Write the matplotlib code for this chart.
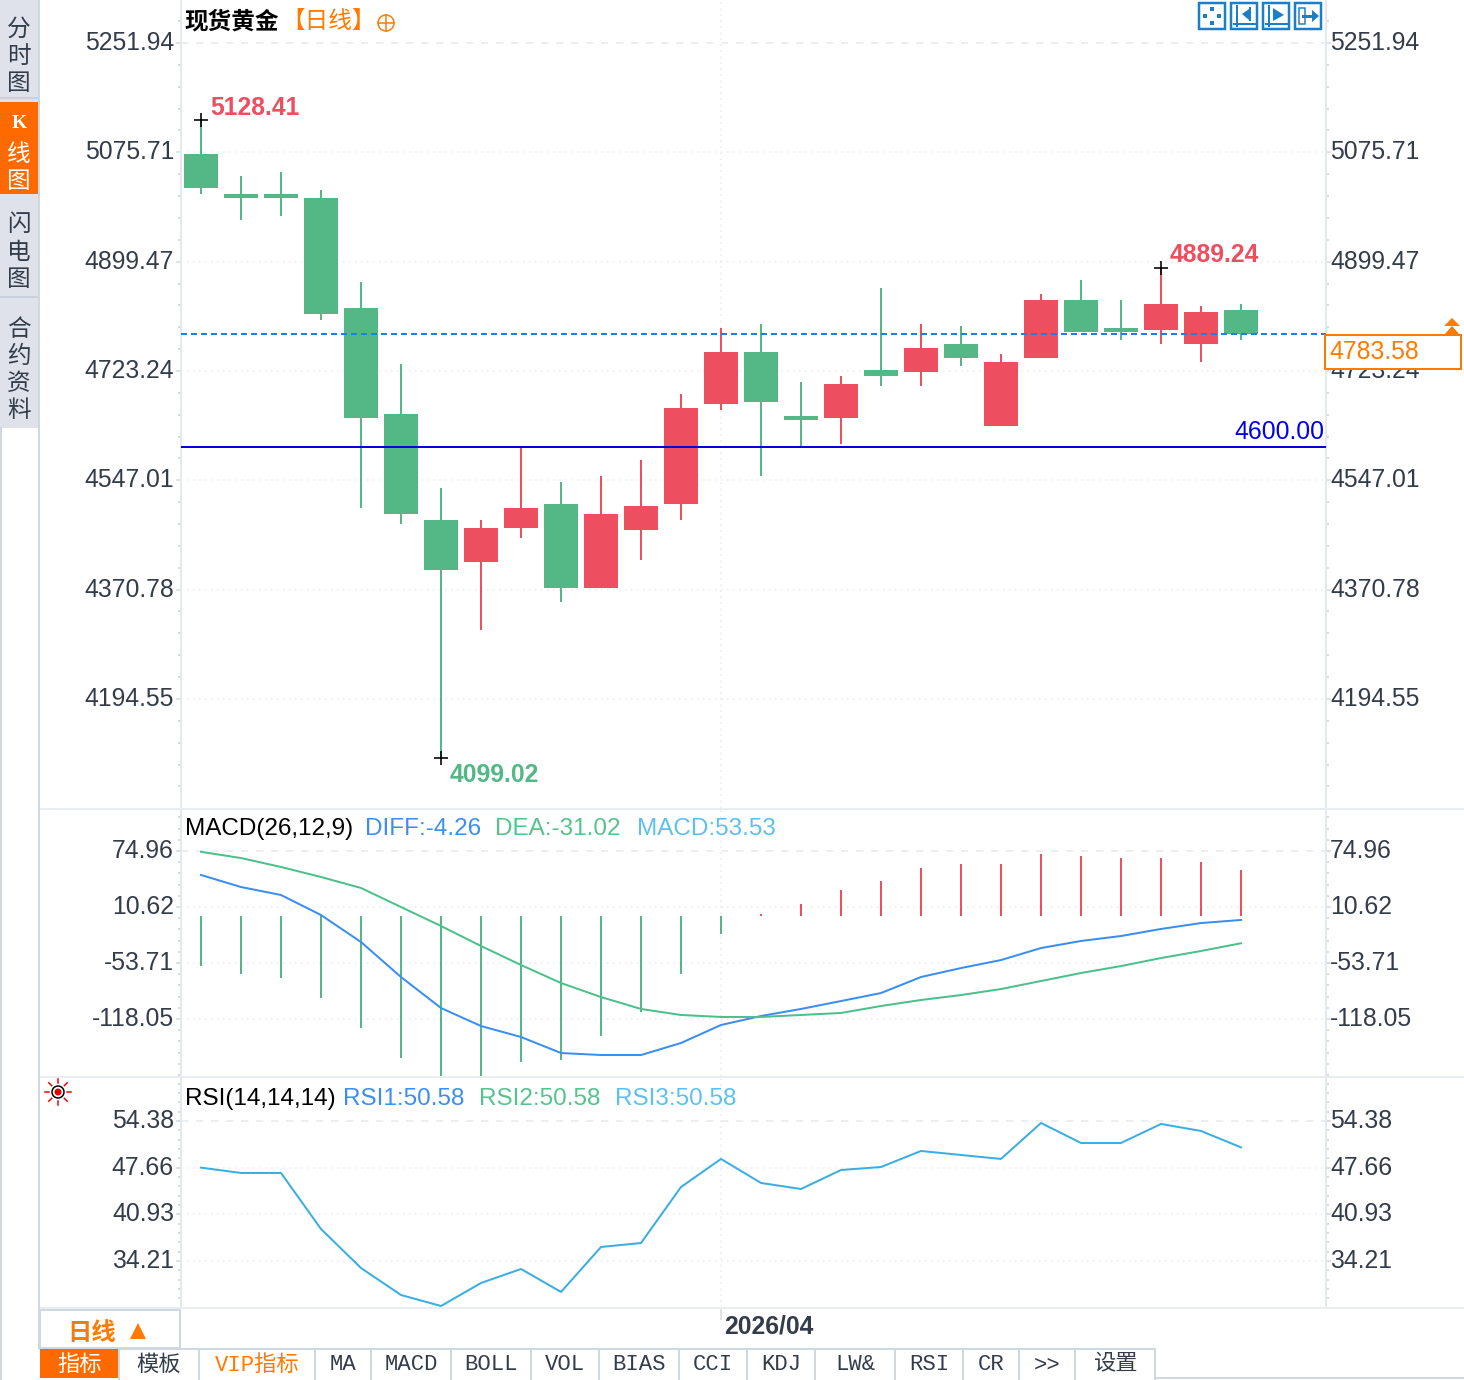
import numpy as np
import matplotlib
matplotlib.use("Agg")
import matplotlib.pyplot as plt
from matplotlib.patches import Rectangle, Circle, Polygon
from matplotlib.transforms import ScaledTranslation

plt.rcParams['font.family'] = ['Liberation Sans', 'Noto Sans CJK SC', 'DejaVu Sans']

## price data (oldest to newest)
open_p = [5073.0, 5008.5, 5008.5, 5002.1, 4824.7, 4653.9, 4483.0, 4415.3, 4470.1, 4508.8, 4373.4, 4466.9, 4508.8, 4670.0,
          4753.8, 4650.6, 4647.4, 4724.8, 4721.6, 4766.7, 4634.5, 4744.1, 4837.6, 4792.5, 4789.3, 4766.7, 4821.5]
close_p = [5018.2, 5002.1, 5002.1, 4815.0, 4647.4, 4492.7, 4402.4, 4470.1, 4502.3, 4373.4, 4492.7, 4505.5, 4663.5, 4753.8,
           4673.2, 4644.2, 4702.2, 4715.1, 4760.2, 4744.1, 4737.7, 4837.6, 4786.0, 4786.0, 4831.2, 4818.3, 4783.58]
high_p = [5128.41, 5037.5, 5044.0, 5015.0, 4866.7, 4734.5, 4534.6, 4483.0, 4599.0, 4544.2, 4553.9, 4579.7, 4686.1, 4792.5,
          4798.9, 4705.4, 4715.1, 4857.0, 4798.9, 4795.7, 4750.6, 4847.3, 4869.9, 4837.6, 4889.24, 4827.9, 4831.2]
low_p = [5008.5, 4966.6, 4973.0, 4805.4, 4502.3, 4476.5, 4099.02, 4305.7, 4454.0, 4350.8, 4373.4, 4418.5, 4483.0, 4660.3,
         4553.9, 4602.3, 4605.5, 4699.0, 4699.0, 4731.2, 4634.5, 4744.1, 4786.0, 4773.1, 4766.7, 4737.7, 4773.1]
price_ticks = [5251.94, 5075.71, 4899.47, 4723.24, 4547.01, 4370.78, 4194.55]
last_price = 4783.58
support_price = 4600.00

macd_hist = [-57.4, -66.6, -71.2, -94.2, -128.7, -163.1, -195.0, -195.0, -167.7, -165.4, -137.9, -110.3, -66.6, -20.7,
             2.3, 13.8, 29.9, 40.2, 55.1, 59.7, 59.7, 71.2, 68.9, 66.6, 66.6, 62.0, 53.53]
diff = [47.4, 33.6, 24.4, 1.4, -29.6, -69.8, -105.4, -126.1, -138.7, -157.1, -159.4, -159.4, -145.6, -124.9,
        -114.6, -106.5, -97.4, -88.2, -69.8, -59.5, -50.3, -36.5, -28.4, -22.7, -14.6, -7.8, -4.26]
dea = [74.0, 66.9, 56.6, 45.1, 32.5, 10.6, -11.2, -34.2, -56.0, -76.7, -92.8, -106.5, -113.4, -115.7,
       -115.7, -113.4, -111.1, -103.1, -96.2, -90.5, -83.6, -74.4, -65.2, -57.2, -48.0, -39.9, -31.02]
macd_ticks = [74.96, 10.62, -53.71, -118.05]

rsi = [47.66, 46.89, 46.89, 38.82, 33.2, 29.31, 27.73, 31.04, 33.06, 29.75, 36.23, 36.8, 44.87, 48.91,
       45.45, 44.58, 47.32, 47.75, 50.06, 49.48, 48.91, 54.09, 51.21, 51.21, 53.95, 52.94, 50.58]
rsi_ticks = [54.38, 47.66, 40.93, 34.21]

side_tabs = ["分时图", "K线图", "闪电图", "合约资料"]
bottom_tabs = ["指标", "模板", "VIP指标", "MA", "MACD", "BOLL", "VOL", "BIAS", "CCI", "KDJ", "LW&", "RSI", "CR", ">>", "设置"]
month_label = "2026/04"

W, H = 1464, 1380
RED = "#ee4f60"
GREEN = "#53b886"
ORANGE = "#ff7a00"
TEXT = "#333c4a"
GRID = "#e6eaee"
AXIS = "#e4e9ee"
PX = 0.72  # points per pixel at dpi 100
FS = 17.8

x = np.arange(len(open_p))
fig = plt.figure(figsize=(W / 100, H / 100), dpi=100, facecolor="white")


def px_axes(left, top, right, bottom):
    return fig.add_axes([left / W, 1 - bottom / H, (right - left) / W, (bottom - top) / H])


def nudge(label, dx, dy):
    # shift a tick label by some pixels (dy up)
    label.set_transform(label.get_transform() + ScaledTranslation(dx / 100, dy / 100, fig.dpi_scale_trans))


def setup_panel(ax, ticks, ylim, minor_step):
    ax.set_xlim(-0.5, 28.125)
    ax.set_yticks(ticks)
    ax.set_yticklabels(["%.2f" % t for t in ticks])
    ax.set_yticks(np.arange(ticks[-1] - minor_step * 5, ticks[0] + minor_step * 8, minor_step), minor=True)
    # minor ticks stretch the limits, so set them afterwards
    ax.set_ylim(*ylim)
    ax.tick_params(axis="y", which="major", left=True, right=True, labelleft=True, labelright=True,
                   length=5 * PX, width=1.5 * PX, color="#d5dae0", labelsize=FS, labelcolor=TEXT, pad=2 * PX)
    ax.tick_params(axis="y", which="minor", left=True, right=True, length=3 * PX, width=2 * PX, color="#d5dae0")
    ax.set_xticks([])
    for side in ["top", "bottom"]:
        ax.spines[side].set_visible(False)
    for side in ["left", "right"]:
        ax.spines[side].set_color(AXIS)
        ax.spines[side].set_linewidth(2 * PX)
    for i, t in enumerate(ticks):
        # first grid line is dashed, the others dotted
        ls = (0, (5, 5)) if i == 0 else (0, (1, 3))
        ax.axhline(t, color=GRID, lw=1.5 * PX, ls=ls, zorder=0)
    ax.axvline(13, color=GRID, lw=1.5 * PX, ls=(0, (1, 3)), zorder=0)
    for tick in ax.yaxis.get_major_ticks():
        nudge(tick.label1, 0, 2.5)
        nudge(tick.label2, -3, 2.5)


## main candle panel
ax1 = px_axes(181, 0, 1326, 808)
setup_panel(ax1, price_ticks, (4018.7, 5321.3), 35.246)
colors = [RED if c >= o else GREEN for o, c in zip(open_p, close_p)]
ax1.vlines(x, low_p, high_p, colors=colors, lw=2 * PX, zorder=2)
heights = np.maximum(np.abs(np.array(close_p) - np.array(open_p)), 6.4)
bottoms = np.minimum(open_p, close_p)
ax1.bar(x, heights, bottom=bottoms, width=0.85, color=colors, zorder=3)
ax1.axhline(last_price, color="#1a80f0", lw=2 * PX, ls=(0, (3, 2)), zorder=4)
ax1.axhline(support_price, color="#0000e0", lw=2 * PX, zorder=4)
ax1.annotate("%.2f" % support_price, (1, support_price), xycoords=("axes fraction", "data"), xytext=(-2 * PX, 3 * PX),
             textcoords="offset points", ha="right", va="bottom", color="#0000ee", fontsize=FS)

# high / low markers
i_high = int(np.argmax(high_p))
i_low = int(np.argmin(low_p))
i_high2 = 24
for i, val, col, dy in [(i_high, high_p[i_high], RED, 12), (i_high2, high_p[i_high2], RED, 13),
                        (i_low, low_p[i_low], GREEN, -17)]:
    ax1.plot([i], [val], marker="+", ms=14 * PX, mew=1.6 * PX, color="black", zorder=6, clip_on=False)
    ax1.annotate("%.2f" % val, (i, val), xytext=(9 * PX, dy * PX), textcoords="offset points",
                 ha="left", va="center", color=col, fontsize=FS, fontweight="bold")

## MACD panel
ax2 = px_axes(181, 810, 1326, 1076)
setup_panel(ax2, macd_ticks, (-183.5, 122.06), 12.867)
hist_colors = [RED if v > 0 else GREEN for v in macd_hist]
ax2.vlines(x, 0, macd_hist, colors=hist_colors, lw=2 * PX, zorder=2)
ax2.plot(x, diff, color="#3a8ef0", lw=2 * PX, zorder=3)
ax2.plot(x, dea, color="#4cc08a", lw=2 * PX, zorder=3)

## RSI panel
ax3 = px_axes(181, 1078, 1326, 1308)
setup_panel(ax3, rsi_ticks, (27.44, 60.57), 1.3445)
ax3.plot(x, rsi, color="#3aaee2", lw=2 * PX, zorder=3)
ax3.set_xticks([13])
ax3.set_xticklabels([month_label], ha="left", color=TEXT, fontsize=FS, fontweight="bold")
ax3.tick_params(axis="x", length=12 * PX, width=1.5 * PX, color="#d5dae0", pad=-5 * PX)
nudge(ax3.xaxis.get_major_ticks()[0].label1, 3, 0)

## window chrome, drawn in pixel coordinates
ui = fig.add_axes([0, 0, 1, 1], zorder=10)
ui.set_xlim(0, W)
ui.set_ylim(H, 0)
ui.axis("off")
ui.patch.set_alpha(0)


def box(l, t, r, b, fc="none", ec="none", lw=0.0, z=1):
    ui.add_patch(Rectangle((l, t), r - l, b - t, facecolor=fc, edgecolor=ec, lw=lw * PX, zorder=z, clip_on=False))


# panel separators
for yy in [809, 1077, 1308]:
    ui.plot([40, W], [yy, yy], color="#e8edf2", lw=2 * PX, zorder=1)

# left side tabs
box(0, 0, 38, 428, fc="#dfe2ea")
box(0, 102, 38, 194, fc="#ff6a00", z=2)
ui.plot([0, 38], [98, 98], color="#c9d2dc", lw=2 * PX)
ui.plot([0, 38], [297, 297], color="#c9d2dc", lw=2 * PX)
ui.plot([39, 39], [0, 1348], color="#cfd8e0", lw=2 * PX)
ui.plot([1, 1], [428, 1380], color="#cfd8e0", lw=2 * PX)
side_y = [[30, 57, 84], [123, 155, 182], [225, 253, 280], [330, 357, 384, 411]]
for tab, ys, in zip(side_tabs, side_y):
    for ch, yy in zip(tab, ys):
        col = "white" if tab == "K线图" else TEXT
        fam = ["Liberation Serif"] if ch == "K" else None
        ui.text(19, yy, ch, ha="center", va="center", fontsize=17 if ch != "K" else 14, color=col, family=fam,
                fontweight="bold" if ch == "K" else "normal", zorder=3)

# title
ui.text(184, 22, "现货黄金", ha="left", va="center", fontsize=17, color="black", fontweight="bold")
ui.text(281, 22, "【日线】", ha="left", va="center", fontsize=17, color=ORANGE)
ui.add_patch(Circle((386, 23), 8, fill=False, ec=ORANGE, lw=1.5 * PX))
ui.plot([378, 394], [23, 23], color=ORANGE, lw=1.5 * PX)
ui.plot([386, 386], [15, 31], color=ORANGE, lw=1.5 * PX)

# toolbar icons
ICON = "#1a7fc8"
for l in [1199, 1231, 1263, 1295]:
    box(l, 3, l + 26, 29, ec=ICON, lw=2.5, z=3)
for dx, dy in [(-7, 0), (7, 0), (0, -7), (0, 7)]:
    box(1212 + dx - 2, 16 + dy - 2, 1212 + dx + 2, 16 + dy + 2, fc=ICON, z=3)
for l in [1231, 1263]:
    ui.plot([l + 6, l + 6], [6, 26], color=ICON, lw=2 * PX, zorder=3)
    ui.plot([l + 3, l + 24], [24, 24], color=ICON, lw=2 * PX, zorder=3)
ui.plot([1250, 1250], [8, 20], color=ICON, lw=2 * PX, zorder=3)
ui.add_patch(Polygon([(1249, 9), (1249, 20), (1242, 14)], fc=ICON, zorder=3))
ui.add_patch(Polygon([(1273, 8), (1273, 21), (1284, 15)], fc=ICON, zorder=3))
box(1299, 8, 1305, 24, ec=ICON, lw=1.5, z=3)
ui.plot([1303, 1314], [16, 16], color=ICON, lw=3 * PX, zorder=3)
ui.add_patch(Polygon([(1312, 10), (1312, 22), (1319, 16)], fc=ICON, zorder=3))

# last price box
box(1325, 335, 1461, 369, fc="white", ec=ORANGE, lw=2, z=4)
ui.text(1329, 352, "%.2f" % last_price, ha="left", va="center", fontsize=FS, color=ORANGE, zorder=5)
ui.add_patch(Polygon([(1444, 326), (1460, 326), (1452, 318)], fc=ORANGE, zorder=5))
ui.add_patch(Polygon([(1444, 335), (1460, 335), (1452, 326)], fc=ORANGE, zorder=5))

# indicator headers
for txt, xx, col in [("MACD(26,12,9)", 185, "black"), ("DIFF:%.2f" % diff[-1], 365, "#3d8ef0"),
                     ("DEA:%.2f" % dea[-1], 495, "#55c48c"), ("MACD:%.2f" % macd_hist[-1], 637, "#5cc0f0")]:
    ui.text(xx, 829, txt, ha="left", va="center", fontsize=17.5, color=col)
for txt, xx, col in [("RSI(14,14,14)", 185, "black"), ("RSI1:%.2f" % rsi[-1], 343, "#3d8ef0"),
                     ("RSI2:%.2f" % rsi[-1], 479, "#55c48c"), ("RSI3:%.2f" % rsi[-1], 615, "#5cc0f0")]:
    ui.text(xx, 1099, txt, ha="left", va="center", fontsize=17.5, color=col)

# little red signal icon
ui.add_patch(Circle((58, 1092), 6, fill=False, ec="black", lw=1.5 * PX, zorder=3))
ui.add_patch(Circle((58, 1092), 3.5, fc="#ee0000", ec="none", zorder=4))
for ang in np.arange(0, 360, 45):
    ca, sa = np.cos(np.radians(ang)), np.sin(np.radians(ang))
    ui.plot([58 + 9 * ca, 58 + 13 * ca], [1092 + 9 * sa, 1092 + 13 * sa], color="#ee0000", lw=1.5 * PX, zorder=3)

# period selector
box(40, 1310, 180, 1348, ec="#cfd8e0", lw=2)
ui.text(67, 1333, "日线", ha="left", va="center", fontsize=17.5, color=ORANGE, fontweight="bold")
ui.add_patch(Polygon([(130, 1339), (146, 1339), (138, 1323)], fc=ORANGE, zorder=3))

# bottom tabs
tab_edges = [40, 119, 199, 315, 371, 451, 531, 599, 679, 747, 815, 895, 963, 1019, 1075, 1155]
ui.plot([40, 1155], [1349, 1349], color="#cfd8e0", lw=2 * PX)
ui.plot([1155, W], [1378, 1378], color="#cfd8e0", lw=2 * PX)
box(40, 1349, 118, 1378, fc="#ff6a00", z=2)
for k, tab in enumerate(bottom_tabs):
    ui.plot([tab_edges[k + 1]] * 2, [1349, 1380], color="#cfd8e0", lw=2 * PX)
    col = "white" if k == 0 else (ORANGE if k == 2 else TEXT)
    ui.text((tab_edges[k] + tab_edges[k + 1]) / 2, 1365, tab, ha="center", va="center", fontsize=16,
            color=col, family=["Liberation Mono", "Noto Sans CJK SC"], zorder=3)

plt.savefig("out.png", dpi=100)
